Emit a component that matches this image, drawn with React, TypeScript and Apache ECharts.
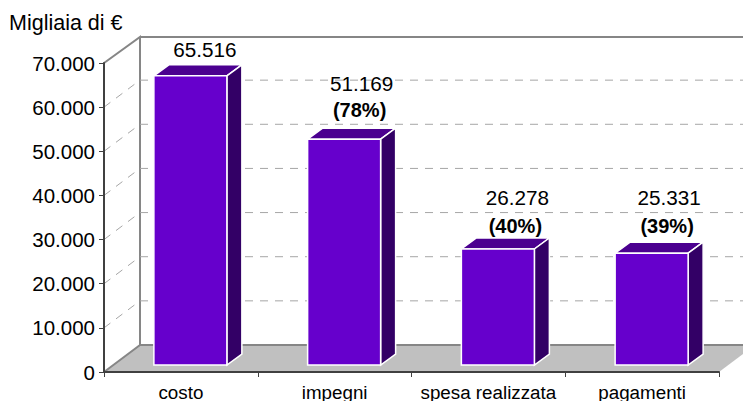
import React, { useEffect, useRef } from "react";
import * as echarts from "echarts";

const categories = ["costo", "impegni", "spesa realizzata", "pagamenti"];
const values = [65516, 51169, 26278, 25331];
const percentLabels = ["", "(78%)", "(40%)", "(39%)"];
const valueLabels = ["65.516", "51.169", "26.278", "25.331"];
const gridValues = [10000, 20000, 30000, 40000, 50000, 60000];
const yTitle = "Migliaia di €";

// Layout of the fake 3D view
const DEPTH_X = 36;
const DEPTH_Y = 27;
const BAR_W = 73;
const BAR_SHIFT_X = 9.5;
const BAR_LIFT = 7;
const SIDE_X = 15;
const SIDE_Y = 11;
const FONT = "'Liberation Sans', Arial, sans-serif";
// vertical gap above each bar's front-top edge for value / percent labels
const labelGapValue = [26, 56, 52, 56];
const labelGapPercent = [0, 29, 23, 27];
const labelShiftX = [13, 16, 18, 16];

function fmt(v: number) {
  return String(v).replace(/\B(?=(\d{3})+$)/g, ".");
}

export default function App() {
  const ref = useRef<HTMLDivElement>(null);
  useEffect(() => {
    document.body.style.margin = "0";
    const chart = echarts.init(ref.current!, undefined, { renderer: "svg" });
    const lineStyle = { stroke: "#868686", lineWidth: 2, fill: "none" };
    chart.setOption({
      animation: false,
      backgroundColor: "#ffffff",
      grid: { left: 104, right: 24, top: 63, bottom: 29, outerBoundsMode: "none" },
      graphic: [
        {
          type: "text",
          left: 9,
          top: 12,
          style: { text: yTitle, fontFamily: FONT, fontSize: 21.5, fill: "#000" },
        },
      ],
      xAxis: {
        type: "category",
        data: categories,
        z: 5,
        axisLine: { lineStyle: { color: "#404040", width: 2 } },
        axisTick: { show: true, alignWithLabel: false, length: 5, lineStyle: { color: "#404040", width: 1 } },
        axisLabel: { interval: 0, fontFamily: FONT, fontSize: 18.8, color: "#000", margin: 11 },
      },
      yAxis: {
        type: "value",
        min: 0,
        max: 70000,
        interval: 10000,
        z: 5,
        splitLine: { show: false },
        axisLine: { show: true, lineStyle: { color: "#404040", width: 2 } },
        axisTick: { show: true, length: 5, lineStyle: { color: "#404040", width: 1 } },
        axisLabel: { fontFamily: FONT, fontSize: 20.5, color: "#000", margin: 9, formatter: (v: number) => fmt(v) },
      },
      series: [
        {
          type: "custom",
          coordinateSystem: "cartesian2d",
          z: 1,
          silent: true,
          data: [[0, 0]],
          encode: { x: 0, y: 1 },
          renderItem: (_p: any, api: any) => {
            const [x0, y0] = api.coord([0, 0]);
            const left = x0 - api.size([1, 0])[0] / 2;
            const right = left + api.size([1, 0])[0] * categories.length;
            const top = api.coord([0, 70000])[1];
            return {
              type: "group",
              children: [
                {
                  type: "polygon",
                  shape: {
                    points: [
                      [left, y0],
                      [right, y0],
                      [right + DEPTH_X, y0 - DEPTH_Y],
                      [left + DEPTH_X, y0 - DEPTH_Y],
                    ],
                  },
                  style: { fill: "#C0C0C0" },
                },
                {
                  type: "polyline",
                  shape: {
                    points: [
                      [left, top],
                      [left + DEPTH_X, top - DEPTH_Y + 1],
                      [left + DEPTH_X, y0 - DEPTH_Y],
                      [left, y0],
                    ],
                  },
                  style: lineStyle,
                },
                {
                  type: "line",
                  shape: { x1: left + DEPTH_X, y1: top - DEPTH_Y + 1, x2: right + DEPTH_X, y2: top - DEPTH_Y + 1 },
                  style: lineStyle,
                },
                {
                  type: "line",
                  shape: { x1: left + DEPTH_X, y1: y0 - DEPTH_Y, x2: right + DEPTH_X, y2: y0 - DEPTH_Y },
                  style: lineStyle,
                },
              ],
            };
          },
        },
        {
          type: "custom",
          coordinateSystem: "cartesian2d",
          z: 2,
          silent: true,
          data: gridValues.map((v) => [0, v]),
          encode: { x: 0, y: 1 },
          renderItem: (_p: any, api: any) => {
            const [x0, y] = api.coord([0, api.value(1)]);
            const w = api.size([1, 0])[0];
            const left = x0 - w / 2;
            const right = left + w * categories.length;
            const st = { stroke: "#A6A6A6", lineWidth: 1, lineDash: [8, 7] };
            return {
              type: "group",
              children: [
                { type: "line", shape: { x1: left, y1: y, x2: left + DEPTH_X, y2: y - DEPTH_Y }, style: st },
                {
                  type: "line",
                  shape: { x1: left + DEPTH_X, y1: y - DEPTH_Y, x2: right + DEPTH_X, y2: y - DEPTH_Y },
                  style: st,
                },
              ],
            };
          },
        },
        {
          type: "custom",
          coordinateSystem: "cartesian2d",
          z: 3,
          silent: true,
          data: values.map((v, i) => [i, v]),
          encode: { x: 0, y: 1 },
          renderItem: (p: any, api: any) => {
            const i = p.dataIndex;
            const [cx, yTop0] = api.coord([i, api.value(1)]);
            const yBase = api.coord([i, 0])[1] - BAR_LIFT;
            const yTop = yTop0 - BAR_LIFT;
            const l = cx + BAR_SHIFT_X - BAR_W / 2;
            const r = l + BAR_W;
            const edge = { stroke: "#ffffff", lineWidth: 1.5 };
            const children: any[] = [
              {
                type: "polygon",
                shape: {
                  points: [
                    [l, yTop],
                    [r, yTop],
                    [r + SIDE_X, yTop - SIDE_Y],
                    [l + SIDE_X, yTop - SIDE_Y],
                  ],
                },
                style: { fill: "#4B0090", ...edge },
              },
              {
                type: "polygon",
                shape: {
                  points: [
                    [r, yTop],
                    [r + SIDE_X, yTop - SIDE_Y],
                    [r + SIDE_X, yBase - SIDE_Y],
                    [r, yBase],
                  ],
                },
                style: { fill: "#330066", ...edge },
              },
              {
                type: "rect",
                shape: { x: l, y: yTop, width: BAR_W, height: yBase - yTop },
                style: { fill: "#6600CC", ...edge },
              },
              {
                type: "text",
                x: cx + labelShiftX[i] + 11,
                y: yTop - labelGapValue[i],
                style: {
                  text: valueLabels[i],
                  fontFamily: FONT,
                  fontSize: 20.7,
                  fill: "#000",
                  align: "center",
                  verticalAlign: "middle",
                },
              },
            ];
            if (percentLabels[i]) {
              children.push({
                type: "text",
                x: cx + labelShiftX[i] + 9,
                y: yTop - labelGapPercent[i],
                style: {
                  text: percentLabels[i],
                  fontFamily: FONT,
                  fontSize: 20,
                  fontWeight: "bold",
                  fill: "#000",
                  align: "center",
                  verticalAlign: "middle",
                },
              });
            }
            return { type: "group", children };
          },
        },
      ],
    });
    return () => chart.dispose();
  }, []);
  return <div ref={ref} style={{ width: 743, height: 401 }} />;
}
